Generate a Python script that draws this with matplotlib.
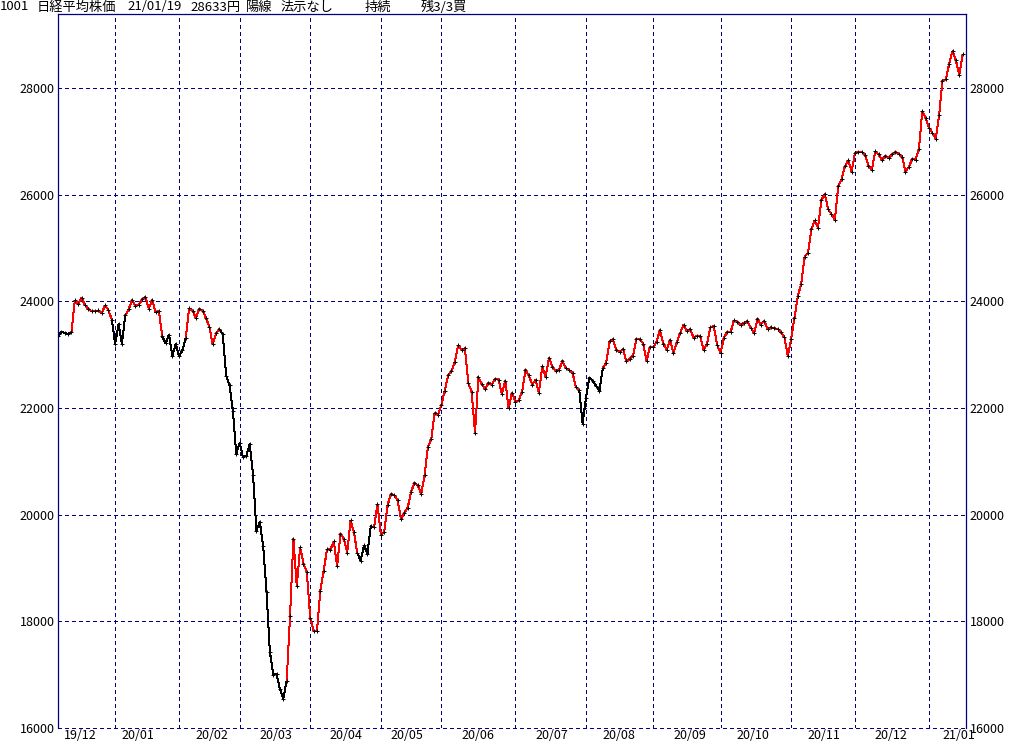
import matplotlib
matplotlib.use("Agg")
import matplotlib.pyplot as plt
from matplotlib.collections import LineCollection
import numpy as np

plt.rcParams['font.family'] = ['Noto Sans CJK JP', 'DejaVu Sans']

# ---- data -------------------------------------------------------------
months = ["2019-12", "2020-01", "2020-02", "2020-03", "2020-04", "2020-05", "2020-06",
          "2020-07", "2020-08", "2020-09", "2020-10", "2020-11", "2020-12", "2021-01"]

trading_days = [
    [6, 9, 10, 11, 12, 13, 16, 17, 18, 19, 20, 23, 24, 25, 26, 27, 30],
    [6, 7, 8, 9, 10, 14, 15, 16, 17, 20, 21, 22, 23, 24, 27, 28, 29, 30, 31],
    [3, 4, 5, 6, 7, 10, 12, 13, 14, 17, 18, 19, 20, 21, 25, 26, 27, 28],
    [2, 3, 4, 5, 6, 9, 10, 11, 12, 13, 16, 17, 18, 19, 23, 24, 25, 26, 27, 30, 31],
    [1, 2, 3, 6, 7, 8, 9, 10, 13, 14, 15, 16, 17, 20, 21, 22, 23, 24, 27, 28, 30],
    [1, 7, 8, 11, 12, 13, 14, 15, 18, 19, 20, 21, 22, 25, 26, 27, 28, 29],
    [1, 2, 3, 4, 5, 8, 9, 10, 11, 12, 15, 16, 17, 18, 19, 22, 23, 24, 25, 26, 29, 30],
    [1, 2, 3, 6, 7, 8, 9, 10, 13, 14, 15, 16, 17, 20, 21, 22, 27, 28, 29, 30, 31],
    [3, 4, 5, 6, 7, 11, 12, 13, 14, 17, 18, 19, 20, 21, 24, 25, 26, 27, 28, 31],
    [1, 2, 3, 4, 7, 8, 9, 10, 11, 14, 15, 16, 17, 18, 23, 24, 25, 28, 29, 30],
    [2, 5, 6, 7, 8, 9, 12, 13, 14, 15, 16, 19, 20, 21, 22, 23, 26, 27, 28, 29, 30],
    [2, 4, 5, 6, 9, 10, 11, 12, 13, 16, 17, 18, 19, 20, 24, 25, 26, 27, 30],
    [1, 2, 3, 4, 7, 8, 9, 10, 11, 14, 15, 16, 17, 18, 21, 22, 23, 24, 25, 28, 29, 30],
    [4, 5, 6, 7, 8, 12, 13, 14, 15, 18, 19],
]

closes_2019_12 = [23354, 23430, 23410, 23391, 23424, 24023, 23952, 24066, 23934, 23864,
                  23816, 23821, 23830, 23782, 23924, 23837, 23656]
closes_2020_01 = [23204, 23575, 23204, 23739, 23850, 24025, 23916, 23933, 24041, 24083,
                  23864, 24031, 23795, 23827, 23343, 23215, 23379, 22977, 23205]
closes_2020_02 = [22971, 23084, 23319, 23873, 23827, 23685, 23861, 23827, 23687, 23523,
                  23193, 23400, 23479, 23386, 22605, 22426, 21948, 21142]
closes_2020_03 = [21344, 21082, 21100, 21329, 20749, 19698, 19867, 19416, 18559, 17431,
                  17002, 17011, 16726, 16552, 16887, 18092, 19546, 18664, 19389, 19084, 18917]
closes_2020_04 = [18065, 17818, 17820, 18576, 18950, 19353, 19345, 19498, 19043, 19638,
                  19550, 19290, 19897, 19669, 19280, 19137, 19429, 19262, 19783, 19771, 20193]
closes_2020_05 = [19619, 19674, 20179, 20390, 20366, 20267, 19914, 20037, 20133, 20433,
                  20595, 20552, 20388, 20741, 21271, 21419, 21916, 21877]
closes_2020_06 = [22062, 22325, 22613, 22695, 22863, 23178, 23091, 23124, 22472, 22305,
                  21530, 22582, 22455, 22355, 22478, 22437, 22549, 22534, 22259, 22512,
                  21995, 22288]
closes_2020_07 = [22121, 22145, 22306, 22714, 22614, 22438, 22529, 22290, 22784, 22587,
                  22945, 22770, 22696, 22717, 22884, 22751, 22715, 22657, 22397, 22339, 21710]
closes_2020_08 = [22195, 22573, 22514, 22418, 22329, 22750, 22843, 23249, 23289, 23096,
                  23051, 23110, 22880, 22920, 22985, 23296, 23290, 23208, 22882, 23139]
closes_2020_09 = [23138, 23247, 23465, 23205, 23089, 23274, 23032, 23235, 23406, 23559,
                  23454, 23475, 23319, 23360, 23346, 23087, 23204, 23511, 23539, 23185]
closes_2020_10 = [23029, 23312, 23433, 23422, 23647, 23619, 23558, 23601, 23626, 23507,
                  23410, 23671, 23567, 23639, 23474, 23516, 23494, 23485, 23418, 23331, 22977]
closes_2020_11 = [23295, 23695, 24105, 24325, 24839, 24905, 25349, 25520, 25385, 25906,
                  26014, 25728, 25634, 25527, 26165, 26296, 26537, 26644, 26433]
closes_2020_12 = [26787, 26800, 26809, 26751, 26547, 26467, 26817, 26756, 26652, 26732,
                  26687, 26757, 26806, 26763, 26714, 26436, 26524, 26668, 26656, 26854,
                  27568, 27444]
closes_2021_01 = [27258, 27158, 27055, 27490, 28139, 28164, 28456, 28698, 28519, 28242, 28633]

# periods in "sell" state (segment start date -> segment start date), drawn black
sell_periods = [("2019-12-06", "2019-12-11"),
                ("2019-12-30", "2020-01-08"),
                ("2020-01-27", "2020-02-04"),
                ("2020-02-20", "2020-03-19"),
                ("2020-04-21", "2020-04-27"),
                ("2020-07-30", "2020-08-07")]

title_parts = ["1001", "日経平均株価", "21/01/19", "28633円", "陽線", "法示なし", "持続", "残3/3買"]
y_ticks = [16000, 18000, 20000, 22000, 24000, 26000, 28000]

# ---- build series -----------------------------------------------------
closes = np.array(closes_2019_12 + closes_2020_01 + closes_2020_02 + closes_2020_03 +
                  closes_2020_04 + closes_2020_05 + closes_2020_06 + closes_2020_07 +
                  closes_2020_08 + closes_2020_09 + closes_2020_10 + closes_2020_11 +
                  closes_2020_12 + closes_2021_01, dtype=float)
dates = [f"{m}-{d:02d}" for m, days in zip(months, trading_days) for d in days]
assert len(dates) == len(closes)
x = np.arange(len(closes))

month_start = []
label_pos = []
i = 0
for m, days in zip(months, trading_days):
    month_start.append(i)
    k = next(j for j, d in enumerate(days) if d >= 15)
    label_pos.append(i + k + 0.75)
    i += len(days)
month_labels = [m[2:4] + "/" + m[5:7] for m in months]

seg_black = np.zeros(len(closes) - 1, dtype=bool)
for a, b in sell_periods:
    ia, ib = dates.index(a), dates.index(b)
    seg_black[ia:ib + 1] = True

# ---- figure -----------------------------------------------------------
W, H = 1024, 745
fig = plt.figure(figsize=(W / 100, H / 100), dpi=100)
L, R, T, B = 58, 966, 14, 728
ax = fig.add_axes([L / W, 1 - B / H, (R - L) / W, (B - T) / H])

navy = "#000080"
ax.set_xlim(0, len(closes))
ax.set_ylim(16000, 29390)

# grid
for ms in month_start[1:]:
    ax.axvline(ms, color=navy, lw=0.72, ls=(0, (4, 3)), antialiased=False, zorder=1)
for yt in y_ticks:
    ax.axhline(yt, color=navy, lw=0.72, ls=(0, (4, 3)), antialiased=False, zorder=1,
               clip_on=False)

# price line
pts = np.column_stack([x, closes])
segs = np.stack([pts[:-1], pts[1:]], axis=1)
colors = ["#000000" if b else "#ff0000" for b in seg_black]
lc = LineCollection(segs, colors=colors, linewidths=0.72, antialiaseds=False, zorder=2)
ax.add_collection(lc)
ax.plot(x, closes, ls="none", marker="+", ms=3.0, mew=0.72, color="black", zorder=3,
        antialiased=False)

# spines
for s in ["left", "right", "top"]:
    ax.spines[s].set_color(navy)
    ax.spines[s].set_linewidth(0.9)
ax.spines["bottom"].set_visible(False)

ax.set_yticks(y_ticks)
ax.set_yticklabels([str(v) for v in y_ticks])
ax.tick_params(axis="y", length=0, labelsize=9, pad=2.5, labelright=True, labelleft=True)
ax.set_xticks(label_pos)
ax.set_xticklabels(month_labels)
ax.tick_params(axis="x", length=0, labelsize=9, pad=0.5)

# title
title_x = [0, 37, 127, 190, 246, 281, 365, 421]
for tx, tp in zip(title_x, title_parts):
    fig.text(tx / W, 1 - 7 / H, tp, fontsize=9.5, ha="left", va="center", color="black")

fig.savefig("out.png", dpi=100, facecolor="white")
